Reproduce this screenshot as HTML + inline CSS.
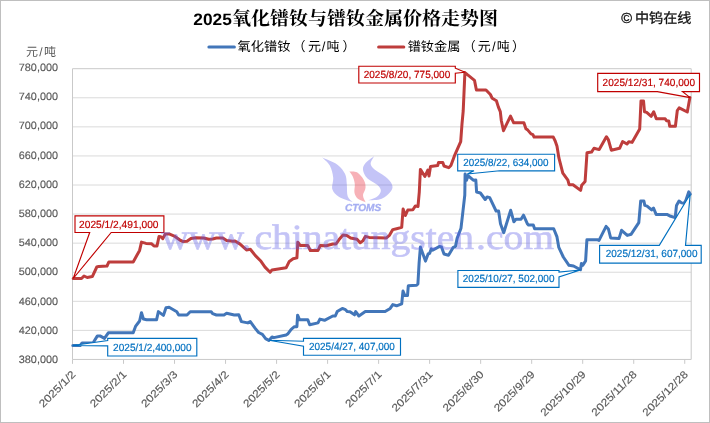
<!DOCTYPE html>
<html lang="zh-CN">
<head>
<meta charset="utf-8">
<title>2025氧化镨钕与镨钕金属价格走势图</title>
<style>
html,body{margin:0;padding:0;background:#fff;}
body{width:710px;height:423px;overflow:hidden;font-family:"Liberation Sans",sans-serif;}
svg{display:block;will-change:transform;text-rendering:geometricPrecision;}
</style>
</head>
<body>
<svg width="710" height="423" viewBox="0 0 710 423" font-family="'Liberation Sans', sans-serif">
<rect x="0" y="0" width="710" height="423" fill="#fff"/>
<rect x="0.5" y="0.5" width="709" height="422" fill="none" stroke="#BFBFBF" stroke-width="1"/>
<path d="M72.5 97.78H691.2M72.5 126.85H691.2M72.5 155.93H691.2M72.5 185H691.2M72.5 214.07H691.2M72.5 243.15H691.2M72.5 272.23H691.2M72.5 301.3H691.2M72.5 330.38H691.2" stroke="#DADADA" stroke-width="1" fill="none"/>
<path d="M72.5 68.7H691.2V359.45H72.5ZM72.5 359.45V363.85M123.52 359.45V363.85M174.54 359.45V363.85M225.56 359.45V363.85M276.58 359.45V363.85M327.6 359.45V363.85M378.62 359.45V363.85M429.64 359.45V363.85M480.66 359.45V363.85M531.68 359.45V363.85M582.7 359.45V363.85M633.72 359.45V363.85M684.74 359.45V363.85" stroke="#C9C9C9" stroke-width="1" fill="none"/>
<g fill="#595959" stroke="#595959" stroke-width="0.15" font-size="10.6">
<text x="18.8" y="70.85" textLength="39.2" lengthAdjust="spacingAndGlyphs">780,000</text>
<text x="18.8" y="100.07" textLength="39.2" lengthAdjust="spacingAndGlyphs">740,000</text>
<text x="18.8" y="129.29" textLength="39.2" lengthAdjust="spacingAndGlyphs">700,000</text>
<text x="18.8" y="158.51" textLength="39.2" lengthAdjust="spacingAndGlyphs">660,000</text>
<text x="18.8" y="187.73" textLength="39.2" lengthAdjust="spacingAndGlyphs">620,000</text>
<text x="18.8" y="216.95" textLength="39.2" lengthAdjust="spacingAndGlyphs">580,000</text>
<text x="18.8" y="246.17" textLength="39.2" lengthAdjust="spacingAndGlyphs">540,000</text>
<text x="18.8" y="275.39" textLength="39.2" lengthAdjust="spacingAndGlyphs">500,000</text>
<text x="18.8" y="304.61" textLength="39.2" lengthAdjust="spacingAndGlyphs">460,000</text>
<text x="18.8" y="333.83" textLength="39.2" lengthAdjust="spacingAndGlyphs">420,000</text>
<text x="18.8" y="363.05" textLength="39.2" lengthAdjust="spacingAndGlyphs">380,000</text>
</g>
<g fill="#595959" stroke="#595959" stroke-width="0.15" font-size="10.6">
<text transform="translate(43.35 407.95) rotate(-45)" textLength="46.6" lengthAdjust="spacingAndGlyphs">2025/1/2</text>
<text transform="translate(94.37 407.95) rotate(-45)" textLength="46.6" lengthAdjust="spacingAndGlyphs">2025/2/1</text>
<text transform="translate(145.39 407.95) rotate(-45)" textLength="46.6" lengthAdjust="spacingAndGlyphs">2025/3/3</text>
<text transform="translate(196.41 407.95) rotate(-45)" textLength="46.6" lengthAdjust="spacingAndGlyphs">2025/4/2</text>
<text transform="translate(247.43 407.95) rotate(-45)" textLength="46.6" lengthAdjust="spacingAndGlyphs">2025/5/2</text>
<text transform="translate(298.45 407.95) rotate(-45)" textLength="46.6" lengthAdjust="spacingAndGlyphs">2025/6/1</text>
<text transform="translate(349.47 407.95) rotate(-45)" textLength="46.6" lengthAdjust="spacingAndGlyphs">2025/7/1</text>
<text transform="translate(396.1 412.34) rotate(-45)" textLength="52.8" lengthAdjust="spacingAndGlyphs">2025/7/31</text>
<text transform="translate(447.12 412.34) rotate(-45)" textLength="52.8" lengthAdjust="spacingAndGlyphs">2025/8/30</text>
<text transform="translate(498.14 412.34) rotate(-45)" textLength="52.8" lengthAdjust="spacingAndGlyphs">2025/9/29</text>
<text transform="translate(544.78 416.72) rotate(-45)" textLength="59" lengthAdjust="spacingAndGlyphs">2025/10/29</text>
<text transform="translate(595.8 416.72) rotate(-45)" textLength="59" lengthAdjust="spacingAndGlyphs">2025/11/28</text>
<text transform="translate(646.82 416.72) rotate(-45)" textLength="59" lengthAdjust="spacingAndGlyphs">2025/12/28</text>
</g>
<text x="193.3" y="24.8" font-size="16.5" font-weight="bold" fill="#000" textLength="38.5" lengthAdjust="spacingAndGlyphs">2025</text>
<text x="232" y="25.3" font-family="'Liberation Serif', 'Noto Serif CJK SC', serif" font-size="19" font-weight="bold" fill="#000" textLength="266" lengthAdjust="spacingAndGlyphs">氧化镨钕与镨钕金属价格走势图</text>
<path d="M208.9 47.1H234.4" stroke="#4276B9" stroke-width="3" stroke-linecap="round" fill="none"/>
<path d="M378.6 47.1H403.8" stroke="#BE3D3C" stroke-width="3" stroke-linecap="round" fill="none"/>
<text x="237.6" y="51.1" font-family="'Liberation Sans', 'Noto Sans CJK SC', sans-serif" font-size="13" fill="#000" textLength="53" lengthAdjust="spacingAndGlyphs">氧化镨钕</text>
<text x="292.5 308 321.8 326.5 342.5" y="51.1" font-family="'Liberation Sans', 'Noto Sans CJK SC', sans-serif" font-size="13" fill="#000">（元/吨）</text>
<text x="407.7" y="51.1" font-family="'Liberation Sans', 'Noto Sans CJK SC', sans-serif" font-size="13" fill="#000" textLength="52.6" lengthAdjust="spacingAndGlyphs">镨钕金属</text>
<text x="462.8 477.8 492 496.7 512" y="51.1" font-family="'Liberation Sans', 'Noto Sans CJK SC', sans-serif" font-size="13" fill="#000">（元/吨）</text>
<text x="26 39.3 44" y="55.8" font-family="'Liberation Sans', 'Noto Sans CJK SC', sans-serif" font-size="12" fill="#595959">元/吨</text>
<text x="635" y="22.9" font-family="'Liberation Sans', 'Noto Sans CJK SC', sans-serif" font-size="14" fill="#111" stroke="#111" stroke-width="0.3" textLength="56.5" lengthAdjust="spacingAndGlyphs">中钨在线</text>
<text x="621.3" y="23.3" font-size="14.6" fill="#111" stroke="#111" stroke-width="0.35">©</text>
<path d="M72.8 345.5 L80.2 345.5 L82.1 343 L93 343 L97.4 335.9 L100 335.9 L104.5 338.4 L108.3 332.8 L133.2 332.8 L135.7 326.1 L139.6 321 L141.5 312.7 L143.4 319 L146.6 319.7 L156.6 319.7 L158.4 311.6 L163.4 315.4 L166 307.7 L169.1 307.3 L176.8 311.8 L178.7 315 L187 315 L190.2 311.8 L211.3 311.8 L212.6 313.7 L216.4 315 L224 315 L226.6 313.3 L234.3 315 L238.8 314.8 L241.4 321.6 L247.8 322.9 L250.3 321.6 L255.4 328.6 L258.6 332.5 L262.4 334.4 L265.6 338.6 L268.8 340.4 L272 336.9 L273.9 337.6 L286.1 335 L288 333.7 L291.2 329.3 L294.4 326.7 L296.9 326.7 L297.6 315.2 L299.5 319.7 L307.8 319.7 L309.7 324.8 L318 322.9 L319.9 319.1 L324.5 320.3 L332.8 316 L335.3 316 L337.2 311.6 L342.3 308.4 L345.5 309.7 L347.4 311.6 L350 311.8 L354.5 314.8 L355.7 311.6 L358.9 316 L365.3 311.6 L385.1 311.6 L390.2 308.4 L392.8 304.6 L396.6 305.8 L401.7 303.9 L403 291.1 L404.9 295.6 L407.5 295.6 L408.3 285.8 L416.6 285.3 L417.9 284 L419.1 263 L420.4 247 L425.5 261.1 L428.1 254 L429.6 253.4 L431.3 248.9 L432.6 250.2 L439.6 246.4 L441.5 247 L444 254 L448.5 255.3 L453 247.7 L455.5 246.4 L457.1 238.4 L461 228.2 L462.9 211.6 L464.8 195 L465.1 173.9 L466.5 180.2 L468 175.6 L473.3 180.2 L475.8 179.9 L476.6 192 L480.4 193 L485.2 199.5 L487.1 196.9 L489.7 197.6 L496.1 211 L498.6 211 L500.5 223.7 L503.7 232.7 L510.7 210.3 L513.9 221.8 L515.9 219.3 L521 219.3 L523.5 215.2 L527.3 223.7 L528.5 225.1 L533.3 225.1 L534.6 228.7 L553.7 228.7 L556.9 236.6 L558.8 247.4 L563.3 257 L569 265.3 L573.5 266 L580.5 269.8 L581.4 263.4 L582.7 265.3 L585.6 260.9 L586.9 239.8 L597.8 239.8 L599 240.4 L606.1 226.4 L608.4 229 L610.7 238 L619 238.6 L621.6 230.3 L627.3 235.4 L631.2 234.2 L638.8 222.7 L640.7 201 L643.9 201 L644.8 205.4 L647.1 206.1 L651.6 209.9 L653.5 208 L656.1 214.4 L666.9 214.4 L670.7 216.3 L675.2 217.6 L676.5 205.4 L679 201 L681.6 202.9 L684.2 203.4 L685.9 200.3 L688.8 191.8 L690.3 194.2" fill="none" stroke="#4276B9" stroke-width="3.0" stroke-linejoin="round" stroke-linecap="round"/>
<path d="M73.2 278.5 L81.5 278.5 L84 276 L87.2 277.5 L92.3 276.6 L96.8 267 L98.7 266.4 L107 266 L108.9 261.9 L133.2 261.9 L139.6 250.4 L141.5 242.1 L146 243.4 L151.7 243.8 L154 246 L157 246 L159 236.6 L160.9 236.7 L162.8 238.6 L165.3 234.1 L169.1 233.9 L174.3 236.1 L180.6 240.5 L183.2 241.6 L187 241.2 L190.9 238.6 L196 237.7 L203.6 238 L208.7 239.3 L212.6 239 L216.4 238 L222.8 238 L226.6 240.5 L233 241.2 L235 241 L240.1 244.1 L246.5 249.9 L250.3 249.3 L255.4 255.6 L260.5 260.7 L265 267.1 L270.1 272.2 L272 269.9 L286.1 267.8 L289.3 261.4 L293.1 258.8 L296.9 257.9 L297.8 242.2 L300.1 245.4 L307.8 245.4 L310.3 250.5 L318 250.5 L320.3 245.4 L326.4 245.7 L332.8 244 L336 244 L339.1 239.6 L343 235.1 L346.8 235.5 L350.6 238 L357 239.3 L360.2 242.8 L362.8 240.9 L365.3 236.4 L369.2 237.4 L386.4 238 L389.6 235.1 L392.8 229.6 L396.6 228.7 L401.7 227.4 L403.1 209 L405.4 215.5 L407.8 210 L412.9 209.7 L415.4 205.9 L418 206.5 L419.3 191.8 L420.4 169.4 L424.9 176.5 L427.8 170 L429 176 L430.5 166.5 L437.7 165.5 L438.5 162.6 L442.8 162.6 L444 166 L448.7 167.7 L450.9 165.5 L454.3 156.2 L460.7 141.6 L462 123.8 L463.2 111 L464.9 72.6 L467.4 74.7 L474.5 80.4 L476.4 90 L486 90 L490.4 94.5 L492.2 98.3 L496.4 100.8 L498.4 107.1 L500.3 111.6 L501.3 120.5 L503.5 130.7 L510.5 116.1 L513.7 122.8 L523.9 122.8 L525.9 128.8 L527.8 130.1 L531 133.9 L532.9 134.6 L534.1 137.1 L553.3 137.1 L555.2 141 L557 146.3 L558.9 157.9 L562.8 173.2 L567.9 180.2 L569.1 184.7 L573 184.7 L580.6 190.4 L581.7 185.3 L585.1 181.5 L587 152.8 L591.5 152.1 L594 148.3 L599.2 149.6 L606.4 136.7 L608.3 139.5 L611.3 150.2 L619.6 148.3 L622.6 141.5 L627 144 L628.8 141.8 L632 142.4 L639.7 129 L641 100.9 L643.5 100.9 L644.5 111.8 L646.7 112.4 L651.2 116.3 L653.7 111.8 L656.3 118.8 L665.2 118.8 L666.5 120.7 L668.8 121.1 L669.7 126.2 L675.4 126.2 L677.3 110.5 L679.2 107.8 L687.3 112 L689.9 97.5" fill="none" stroke="#BE3D3C" stroke-width="3.0" stroke-linejoin="round" stroke-linecap="round"/>
<path d="M75 215.8H163.9V232.5H111.2L73.2 278.5L89.7 232.5H75Z" fill="#fff" stroke="#C00000" stroke-width="1.15" stroke-linejoin="miter"/>
<text x="79.1" y="227.9" font-size="10.4" fill="#C00000" stroke="#C00000" stroke-width="0.18" textLength="79.4" lengthAdjust="spacingAndGlyphs">2025/1/2,491,000</text>
<path d="M107.7 338.4H196.8V356H107.7V345.9L72.8 345.5L107.7 340.5Z" fill="#fff" stroke="#0070C0" stroke-width="1.15" stroke-linejoin="miter"/>
<text x="113.1" y="351" font-size="10.4" fill="#0070C0" stroke="#0070C0" stroke-width="0.18" textLength="78.5" lengthAdjust="spacingAndGlyphs">2025/1/2,400,000</text>
<path d="M303.5 338.3H400.5V355.2H303.5V346.2L269 340.2L303.5 341.2Z" fill="#fff" stroke="#0070C0" stroke-width="1.15" stroke-linejoin="miter"/>
<text x="309" y="349.9" font-size="10.4" fill="#0070C0" stroke="#0070C0" stroke-width="0.18" textLength="85.8" lengthAdjust="spacingAndGlyphs">2025/4/27, 407,000</text>
<path d="M358.8 66.2H455.3V68.2L465.2 72.2L455.3 73.2V83H358.8Z" fill="#fff" stroke="#C00000" stroke-width="1.15" stroke-linejoin="miter"/>
<text x="363.7" y="77.8" font-size="10.4" fill="#C00000" stroke="#C00000" stroke-width="0.18" textLength="86.6" lengthAdjust="spacingAndGlyphs">2025/8/20, 775,000</text>
<path d="M457.7 154.2H554.6V170.8H499.6L467.3 174L474 170.8H457.7Z" fill="#fff" stroke="#0070C0" stroke-width="1.15" stroke-linejoin="miter"/>
<text x="463.2" y="166.3" font-size="10.4" fill="#0070C0" stroke="#0070C0" stroke-width="0.18" textLength="85.2" lengthAdjust="spacingAndGlyphs">2025/8/22, 634,000</text>
<path d="M457.9 270.5H559V272L580.4 270L559 276.9V287.3H457.9Z" fill="#fff" stroke="#0070C0" stroke-width="1.15" stroke-linejoin="miter"/>
<text x="462.8" y="281.9" font-size="10.4" fill="#0070C0" stroke="#0070C0" stroke-width="0.18" textLength="91.7" lengthAdjust="spacingAndGlyphs">2025/10/27, 502,000</text>
<path d="M597.7 73.4H699.5V91.6H682.5L690.2 97.6L657.3 91.6H597.7Z" fill="#fff" stroke="#C00000" stroke-width="1.15" stroke-linejoin="miter"/>
<text x="602.6" y="85.9" font-size="10.4" fill="#C00000" stroke="#C00000" stroke-width="0.18" textLength="92.4" lengthAdjust="spacingAndGlyphs">2025/12/31, 740,000</text>
<path d="M599.6 245.4H659.3L690.2 194.2L685.5 245.4H701.2V263.1H599.6Z" fill="#fff" stroke="#0070C0" stroke-width="1.15" stroke-linejoin="miter"/>
<text x="605.7" y="257.4" font-size="10.4" fill="#0070C0" stroke="#0070C0" stroke-width="0.18" textLength="91.8" lengthAdjust="spacingAndGlyphs">2025/12/31, 607,000</text>
<g>
<path d="M322.13 157.53C323.4 158.87 327.94 162.21 329.79 165.53C331.63 168.85 332.77 173.48 333.19 177.45C333.62 181.42 331.35 186.1 332.34 189.36C333.33 192.62 335.74 194.89 339.15 197.02C342.55 199.15 350.5 201.28 352.77 202.13C351.91 201.13 348.65 199.15 347.66 196.17C346.67 193.19 347.23 187.94 346.81 184.26C346.38 180.57 346.67 177.3 345.11 174.04C343.55 170.78 341.28 167.43 337.45 164.68C333.62 161.93 324.68 158.72 322.13 157.53Z" fill="rgba(92,92,232,0.36)"/>
<path d="M374.04 156.17C372.62 157.3 367.38 160.71 365.53 162.98C363.69 165.25 362.7 167.23 362.98 169.79C363.26 172.34 364.82 175.74 367.23 178.3C369.65 180.85 375.18 182.98 377.45 185.11C379.72 187.23 380.99 189.08 380.85 191.06C380.71 193.05 378.72 195.46 376.6 197.02C374.47 198.58 369.5 199.86 368.09 200.43C370.35 200.14 377.87 200.28 381.7 198.72C385.53 197.16 389.36 193.48 391.06 191.06C392.77 188.65 392.91 186.67 391.91 184.26C390.92 181.84 387.94 179.01 385.11 176.6C382.27 174.18 377.3 171.91 374.89 169.79C372.48 167.66 370.78 166.1 370.64 163.83C370.5 161.56 373.48 157.45 374.04 156.17Z" fill="rgba(92,92,232,0.36)"/>
<path d="M349.36 171.49C350.64 171.63 354.61 170.92 357.02 172.34C359.43 173.76 362.41 177.45 363.83 180C365.25 182.55 365.67 185.11 365.53 187.66C365.39 190.21 362.98 192.91 362.98 195.32C362.98 197.73 365.11 200.99 365.53 202.13C364.26 201.56 359.72 200.28 357.87 198.72C356.03 197.16 354.98 195.18 354.47 192.77C353.96 190.35 355.09 186.95 354.81 184.26C354.52 181.56 353.67 178.72 352.77 176.6C351.86 174.47 349.93 172.34 349.36 171.49Z" fill="rgba(235,60,75,0.40)"/>
<text x="344.9" y="211.4" font-size="10.2" font-weight="bold" font-style="italic" fill="#5C6CE8" stroke="#5C6CE8" stroke-width="0.3" opacity="0.55" textLength="36.4" lengthAdjust="spacingAndGlyphs">CTOMS</text>
<text y="248.7" font-family="'Liberation Serif', serif" font-size="35.5" fill="#5C5CE8" stroke="#5C5CE8" stroke-width="0.7" opacity="0.36"><tspan x="161.2" textLength="90" lengthAdjust="spacingAndGlyphs">www.</tspan><tspan x="254.4" textLength="219.6" lengthAdjust="spacingAndGlyphs">chinatungsten</tspan><tspan x="476.0" textLength="78.0" lengthAdjust="spacingAndGlyphs">.com</tspan></text>
</g>
</svg>
</body>
</html>
